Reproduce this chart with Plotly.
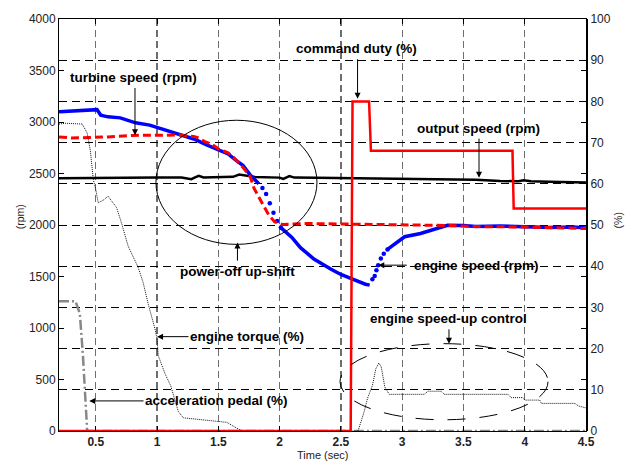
import plotly.graph_objects as go

# ---------------- data ----------------
# engine speed (rpm) - blue, slow segments (lines) and fast segments (sampled dots)
engine_a_t = [0.2, 0.3, 0.4, 0.51, 0.54, 0.6, 0.7, 0.825, 0.94, 1.05, 1.18, 1.3, 1.4, 1.5, 1.58, 1.65, 1.7, 1.76, 1.8, 1.83]
engine_a_rpm = [3100, 3105, 3115, 3120, 3067, 3050, 3040, 2992, 2970, 2930, 2880, 2835, 2780, 2729, 2690, 2623, 2580, 2487, 2440, 2400]
engine_b_t = [2.01, 2.1, 2.17, 2.28, 2.42, 2.5, 2.58, 2.66, 2.70, 2.735]
engine_b_rpm = [1975, 1880, 1780, 1670, 1570, 1520, 1481, 1442, 1425, 1416]
engine_c_t = [2.88, 2.96, 3.02, 3.15, 3.26, 3.37, 3.5, 3.6, 3.8, 4.0, 4.2, 4.4, 4.5]
engine_c_rpm = [1763, 1834, 1886, 1918, 1957, 1998, 1995, 1985, 1990, 1980, 1975, 1980, 1970]
engine_dots_t = [1.86, 1.89, 1.92, 1.95, 1.98, 2.01, 2.757, 2.776, 2.79, 2.804, 2.826, 2.85, 2.88]
engine_dots_rpm = [2360, 2300, 2210, 2120, 2040, 1975, 1474, 1506, 1560, 1609, 1674, 1720, 1763]

# turbine speed (rpm) - red dashed
turbine_t = [0.2, 0.3, 0.47, 0.6, 0.8, 1.0, 1.18, 1.3, 1.34, 1.39, 1.45, 1.5, 1.58, 1.63, 1.7, 1.76, 1.79, 1.84, 1.91, 1.96, 2.02,
             2.2, 2.5, 2.8, 3.0, 3.2, 3.4, 3.6, 3.8, 4.0, 4.2, 4.5]
turbine_rpm = [2855, 2845, 2850, 2855, 2870, 2875, 2873, 2860, 2845, 2810, 2780, 2740, 2700, 2650, 2560, 2470, 2360, 2250, 2100, 2030, 2005,
               2015, 2010, 2005, 2000, 2000, 1995, 1985, 1985, 1980, 1975, 1965]

# output speed (rpm) - black solid
output_t = [0.2, 0.4, 0.6, 0.8, 1.0, 1.2, 1.28, 1.31, 1.34, 1.38, 1.5, 1.62, 1.67, 1.72, 1.76, 1.8, 2.0, 2.03, 2.08, 2.12, 2.3,
            2.6, 2.8, 3.0, 3.3, 3.6, 3.8, 3.95, 3.99, 4.05, 4.2, 4.5]
output_rpm = [2455, 2458, 2462, 2460, 2462, 2462, 2445, 2462, 2478, 2462, 2465, 2468, 2490, 2482, 2475, 2466, 2460, 2447, 2475, 2460, 2458,
              2455, 2455, 2450, 2445, 2440, 2428, 2424, 2435, 2425, 2420, 2413]

# command duty (%) - red solid
duty_t = [0.2, 2.58, 2.595, 2.73, 2.745, 3.9, 3.91, 4.5]
duty_pct = [0, 0, 80, 80, 68, 68, 54, 54]

# engine torque (%) - black dotted
torque_t = [0.2, 0.25, 0.39, 0.43, 0.456, 0.47, 0.48, 0.50, 0.52, 0.56, 0.60, 0.67, 0.71, 0.764, 0.846, 0.887, 0.928,
            0.983, 1.0, 1.01, 1.065, 1.11, 1.14, 1.174, 1.215, 1.406, 1.57, 1.652, 1.7, 2.64, 2.69, 2.717, 2.758, 2.785,
            2.81, 2.83, 2.858, 2.894, 3.18, 3.21, 3.317, 3.344, 3.864, 3.89, 3.986, 4.0, 4.122, 4.136, 4.41, 4.437, 4.5]
torque_pct = [74.5, 74.7, 74.5, 72.3, 68, 63.4, 61, 58.6, 55.4, 56, 57, 54.2, 50.5, 44.9, 39.7, 36, 30.8,
              24.8, 22.4, 18.3, 13.9, 11.1, 8, 4.7, 3.2, 2.7, 2.1, 0.65, 0, 0, 4.7, 7.9, 11.1, 15.1,
              16.5, 15.5, 10.7, 8.9, 8.9, 9.65, 9.65, 8.9, 8.9, 8.1, 8.1, 7.5, 7.5, 6.7, 6.7, 6.1, 5.6]

# acceleration pedal (%) - grey dash-dot
pedal_t = [0.2, 0.335, 0.37, 0.395, 0.43, 4.5]
pedal_pct = [31.5, 31.5, 28.5, 18.5, 0, 0]

x_ticks = [0.5, 1, 1.5, 2, 2.5, 3, 3.5, 4, 4.5]
x_ticktext = ["0.5", "1", "1.5", "2", "2.5", "3", "3.5", "4", "4.5"]
rpm_ticks = [0, 500, 1000, 1500, 2000, 2500, 3000, 3500, 4000]
pct_ticks = [0, 10, 20, 30, 40, 50, 60, 70, 80, 90, 100]

FONT = "Liberation Sans, Arial, sans-serif"

fig = go.Figure()

fig.add_trace(go.Scatter(x=pedal_t, y=pedal_pct, yaxis="y2", mode="lines",
                         line=dict(color="#888888", width=2.5, dash="10px,3px,2px,3px")))
fig.add_trace(go.Scatter(x=torque_t, y=torque_pct, yaxis="y2", mode="lines",
                         line=dict(color="#111111", width=1, dash="1px,1px")))
fig.add_trace(go.Scatter(x=output_t, y=output_rpm, mode="lines",
                         line=dict(color="black", width=2.5)))
for tt, rr in [(engine_a_t, engine_a_rpm), (engine_b_t, engine_b_rpm), (engine_c_t, engine_c_rpm)]:
    fig.add_trace(go.Scatter(x=tt, y=rr, mode="lines", line=dict(color="#0000ff", width=3.5)))
fig.add_trace(go.Scatter(x=engine_dots_t, y=engine_dots_rpm, mode="markers",
                         marker=dict(color="#0000ff", size=4.5)))
fig.add_trace(go.Scatter(x=turbine_t, y=turbine_rpm, mode="lines",
                         line=dict(color="#ff0000", width=3, dash="8px,4px")))
fig.add_trace(go.Scatter(x=duty_t, y=duty_pct, yaxis="y2", mode="lines",
                         line=dict(color="#ff0000", width=2.5)))

# ellipses
fig.add_shape(type="circle", xref="x", yref="y", x0=0.991, x1=2.305, y0=1812, y1=3017,
              line=dict(color="black", width=1))
fig.add_shape(type="circle", xref="x", yref="y", x0=2.493, x1=4.19, y0=109, y1=848,
              line=dict(color="black", width=1, dash="18px,14px"))

# labels (text) and arrows
labels = [
    ("turbine speed (rpm)", 0.804, 3431),
    ("command duty (%)", 2.627, 3711),
    ("output speed (rpm)", 3.619, 2940),
    ("power-off up-shift", 1.656, 1545),
    ("engine speed (rpm)", 3.606, 1610),
    ("engine speed-up control", 3.382, 1089),
    ("engine torque (%)", 1.734, 916),
    ("acceleration pedal (%)", 1.487, 292),
]
for txt, xx, yy in labels:
    fig.add_annotation(x=xx, y=yy, xref="x", yref="y", text="<b>%s</b>" % txt, showarrow=False,
                       font=dict(family=FONT, size=13.5, color="black"), xanchor="center", yanchor="middle")

arrows = [  # tip x, tip y, tail x, tail y
    (0.820, 2872, 0.820, 3345),
    (2.636, 3225, 2.636, 3624),
    (3.627, 2458, 3.627, 2853),
    (1.656, 1831, 1.656, 1639),
    (2.805, 1610, 3.05, 1610),
    (3.382, 848, 3.382, 1002),
    (1.0, 916, 1.269, 916),
    (0.447, 292, 0.902, 292),
]
for tx, ty, sx, sy in arrows:
    fig.add_annotation(x=tx, y=ty, ax=sx, ay=sy, xref="x", yref="y", axref="x", ayref="y",
                       text="", showarrow=True, arrowhead=2, arrowsize=1.2, arrowwidth=1,
                       arrowcolor="black", standoff=0, startstandoff=0)

# axis titles
fig.add_annotation(text="(rpm)", xref="paper", yref="paper", x=-0.09, y=0.52, textangle=-90,
                   showarrow=False, font=dict(family=FONT, size=10.5, color="#222"))
fig.add_annotation(text="(%)", xref="paper", yref="paper", x=1.075, y=0.51, textangle=-90,
                   showarrow=False, font=dict(family=FONT, size=10.5, color="#222"))
fig.add_annotation(text="Time (sec)", xref="paper", yref="paper", x=0.5, y=-0.058, yanchor="middle",
                   showarrow=False, font=dict(family=FONT, size=11, color="#222"))

fig.update_layout(
    width=626, height=461,
    margin=dict(l=59, r=40, t=18, b=28),
    paper_bgcolor="white", plot_bgcolor="white",
    showlegend=False, hovermode=False,
    font=dict(family=FONT, size=12, color="#222"),
    xaxis=dict(range=[0.2, 4.5], tickvals=x_ticks, ticktext=x_ticktext,
               tickfont=dict(family=FONT, size=12, color="#222", weight="bold"),
               showgrid=True, gridcolor="#6e6e6e", gridwidth=1.3, griddash="7px,4px",
               ticks="inside", ticklen=5, tickcolor="black",
               showline=True, linecolor="black", linewidth=1, mirror="ticks", zeroline=False),
    yaxis=dict(range=[0, 4000], tickvals=rpm_ticks, showgrid=False,
               ticks="inside", ticklen=5, tickcolor="black",
               showline=True, linecolor="black", linewidth=1, mirror="ticks", zeroline=False,
               tickfont=dict(family=FONT, size=12, color="#222")),
    yaxis2=dict(range=[0, 100], tickvals=pct_ticks, overlaying="y", side="right",
                showgrid=True, gridcolor="black", gridwidth=1, griddash="8px,5px",
                ticks="inside", ticklen=5, tickcolor="black",
                showline=True, linecolor="black", linewidth=2, zeroline=False,
                tickfont=dict(family=FONT, size=12, color="#222")),
)

fig.write_html("out.html", config={"displayModeBar": False, "staticPlot": True},
               post_script="document.body.style.margin='0';document.body.style.overflow='hidden';")
